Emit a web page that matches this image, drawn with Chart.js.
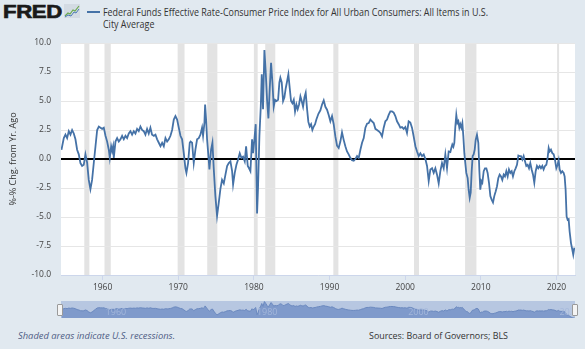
<!DOCTYPE html>
<html>
<head>
<meta charset="utf-8">
<title>Federal Funds Effective Rate - CPI</title>
<script src="https://cdn.jsdelivr.net/npm/chart.js@4.4.1/dist/chart.umd.min.js"></script>
<style>
  html, body { margin: 0; padding: 0; }
  body { width: 585px; height: 349px; background: #e1e9f0; position: relative; overflow: hidden; font-family: 'Open Sans', sans-serif; }
  .txt { position: absolute; white-space: nowrap; transform-origin: 0 0; }
  #logo { left: 3px; top: 2px; font-family: 'Liberation Sans', Arial, sans-serif; font-weight: bold; font-size: 19px; line-height: 19px; color: #1a1a1a; letter-spacing: -0.3px; -webkit-text-stroke: 0.7px #1a1a1a; }
  #icon { position: absolute; left: 64px; top: 4px; }
  #legendKey { position: absolute; left: 87px; top: 11px; width: 13px; height: 2px; background: #4572a7; }
  .legendLine { left: 103px; font-size: 10px; line-height: 12px; color: #333; }
  #legend1 { top: 6px; }
  #legend2 { top: 18px; }
  #mainChart { position: absolute; left: 0; top: 0; }
  #navChart { position: absolute; left: 61px; top: 301px; }
  .handle { position: absolute; top: 304px; width: 4px; height: 10px; background: #f4f4f4; border: 1px solid #9a9a9a; border-radius: 1px; }
  #footLeft { left: 18px; top: 330px; font-size: 9.5px; line-height: 12px; font-style: italic; color: #4f5d85; }
  #footRight { left: 369px; top: 330px; font-size: 9.5px; line-height: 12px; color: #333; }
</style>
</head>
<body>
<div id="logo" class="txt">FRED</div>
<svg id="icon" width="16" height="14" viewBox="0 0 16 14">
  <rect x="0" y="0" width="16" height="14" fill="#d3dbe3"/>
  <polyline points="1,12 4,9 6,10 9,6 11,7 15,2" fill="none" stroke="#6aa84f" stroke-width="1.2"/>
  <polyline points="1,13 4,11 7,12 10,8 12,9 15,5" fill="none" stroke="#4a7ab5" stroke-width="1"/>
</svg>
<div id="legendKey"></div>
<div id="legend1" class="txt legendLine">Federal Funds Effective Rate-Consumer Price Index for All Urban Consumers: All Items in U.S.</div>
<div id="legend2" class="txt legendLine">City Average</div>

<canvas id="mainChart" width="585" height="297"></canvas>
<canvas id="navChart" width="514" height="17"></canvas>
<div class="handle" style="left:57px"></div>
<div class="handle" style="left:572px"></div>

<div id="footLeft" class="txt">Shaded areas indicate U.S. recessions.</div>
<div id="footRight" class="txt">Sources: Board of Governors; BLS</div>

<script>
const obsYear = [
  1954.56, 1954.87, 1955.09, 1955.31, 1955.53, 1955.75, 1955.97, 1956.19, 1956.41, 1956.63,
  1956.85, 1957.07, 1957.29, 1957.51, 1957.73, 1957.95, 1958.17, 1958.39, 1958.61, 1958.84,
  1959.06, 1959.28, 1959.50, 1959.72, 1959.94, 1960.16, 1960.38, 1960.60, 1960.82, 1960.95,
  1961.13, 1961.26, 1961.39, 1961.48, 1961.70, 1961.92, 1962.14, 1962.36, 1962.58, 1962.80,
  1963.02, 1963.24, 1963.46, 1963.68, 1963.90, 1964.12, 1964.34, 1964.56, 1964.78, 1965.00,
  1965.22, 1965.44, 1965.66, 1965.88, 1966.10, 1966.32, 1966.54, 1966.78, 1966.99, 1967.21,
  1967.43, 1967.65, 1967.87, 1968.09, 1968.31, 1968.53, 1968.75, 1968.97, 1969.19, 1969.41,
  1969.63, 1969.85, 1970.07, 1970.29, 1970.51, 1970.73, 1970.95, 1971.08, 1971.30, 1971.52,
  1971.63, 1971.83, 1972.05, 1972.27, 1972.49, 1972.71, 1972.93, 1973.15, 1973.28, 1973.46,
  1973.55, 1973.68, 1973.81, 1974.03, 1974.12, 1974.34, 1974.52, 1974.69, 1974.91, 1975.13,
  1975.35, 1975.57, 1975.79, 1976.02, 1976.24, 1976.46, 1976.68, 1976.90, 1977.12, 1977.25,
  1977.47, 1977.69, 1977.91, 1978.13, 1978.35, 1978.57, 1978.79, 1978.97, 1979.19, 1979.36,
  1979.54, 1979.76, 1979.89, 1980.07, 1980.24, 1980.42, 1980.55, 1980.73, 1980.91, 1981.04,
  1981.21, 1981.39, 1981.57, 1981.74, 1981.92, 1982.09, 1982.27, 1982.45, 1982.62, 1982.80,
  1982.98, 1983.20, 1983.37, 1983.50, 1983.68, 1983.86, 1984.03, 1984.21, 1984.39, 1984.56,
  1984.74, 1984.91, 1985.09, 1985.27, 1985.44, 1985.62, 1985.79, 1985.97, 1986.15, 1986.32,
  1986.50, 1986.68, 1986.85, 1987.03, 1987.20, 1987.38, 1987.56, 1987.73, 1987.91, 1988.09,
  1988.26, 1988.53, 1988.79, 1989.01, 1989.23, 1989.45, 1989.67, 1989.89, 1990.11, 1990.33,
  1990.55, 1990.77, 1990.99, 1991.21, 1991.43, 1991.65, 1991.87, 1992.09, 1992.31, 1992.53,
  1992.75, 1992.97, 1993.20, 1993.42, 1993.64, 1993.86, 1994.08, 1994.30, 1994.52, 1994.74,
  1994.96, 1995.18, 1995.40, 1995.62, 1995.84, 1996.06, 1996.28, 1996.50, 1996.72, 1996.94,
  1997.16, 1997.38, 1997.60, 1997.82, 1998.04, 1998.26, 1998.48, 1998.70, 1998.92, 1999.14,
  1999.36, 1999.58, 1999.80, 2000.02, 2000.24, 2000.46, 2000.68, 2000.90, 2001.12, 2001.35,
  2001.57, 2001.79, 2002.01, 2002.23, 2002.45, 2002.67, 2002.89, 2003.11, 2003.33, 2003.55,
  2003.77, 2003.99, 2004.21, 2004.43, 2004.65, 2004.87, 2005.09, 2005.31, 2005.53, 2005.75,
  2005.97, 2006.10, 2006.23, 2006.37, 2006.50, 2006.63, 2006.76, 2006.90, 2007.03, 2007.16,
  2007.29, 2007.42, 2007.56, 2007.69, 2007.82, 2007.95, 2008.08, 2008.26, 2008.39, 2008.53,
  2008.66, 2008.79, 2008.92, 2009.05, 2009.19, 2009.32, 2009.49, 2009.67, 2009.80, 2009.93,
  2010.07, 2010.20, 2010.38, 2010.55, 2010.73, 2010.90, 2011.08, 2011.26, 2011.43, 2011.61,
  2011.78, 2011.96, 2012.14, 2012.31, 2012.49, 2012.67, 2012.84, 2013.02, 2013.19, 2013.37,
  2013.55, 2013.72, 2013.90, 2014.08, 2014.25, 2014.43, 2014.60, 2014.78, 2014.96, 2015.13,
  2015.31, 2015.49, 2015.66, 2015.84, 2016.01, 2016.19, 2016.37, 2016.54, 2016.72, 2016.90,
  2017.07, 2017.25, 2017.42, 2017.60, 2017.78, 2017.95, 2018.13, 2018.30, 2018.48, 2018.66,
  2018.83, 2018.97, 2019.10, 2019.27, 2019.45, 2019.63, 2019.80, 2019.98, 2020.15, 2020.29,
  2020.42, 2020.60, 2020.77, 2020.95, 2021.08, 2021.21, 2021.34, 2021.48, 2021.61, 2021.74,
  2021.92, 2022.09, 2022.22, 2022.36
];

const realRate = [
  0.8, 1.8, 2.1, 1.8, 2.4, 2.1, 2.5, 2.2, 1.7, 0.8,
  0.4, -0.35, -0.6, -0.5, 0.4, -0.3, -1.8, -2.6, -1.8, -0.3,
  1.1, 2.5, 2.8, 2.7, 2.6, 2.7, 2.0, 1.5, 0.8, 0.1,
  1.1, 0.7, 1.1, 0.1, 1.5, 1.8, 1.5, 1.7, 2.0, 1.7,
  2.0, 1.8, 2.2, 2.4, 2.1, 2.4, 2.2, 2.6, 2.4, 2.8,
  2.5, 2.4, 2.1, 2.6, 2.2, 2.7, 2.1, 2.0, 2.1, 1.7,
  1.4, 1.1, 1.4, 1.1, 1.8, 1.5, 1.7, 2.0, 2.5, 3.4,
  3.7, 3.4, 2.7, 2.0, 1.7, 0.5, -0.8, -1.2, -0.35, 1.4,
  1.5, 1.4, -0.35, 0.8, 1.7, 1.8, 2.1, 2.7, 2.0, 3.1,
  4.7, 3.4, 1.7, -0.05, -0.9, 0.8, 1.4, -0.8, -3.2, -4.9,
  -3.8, -2.6, -1.8, -2.1, -1.35, -0.6, -0.35, -0.2, -1.05, -2.2,
  -1.2, -0.5, -0.05, 0.5, 0.1, 0.2, -0.2, 1.1, -0.6, -0.8,
  -1.05, 1.7, 0.5, 1.7, 3.0, -4.7, -2.4, 2.0, 4.5, 7.3,
  4.3, 9.4, 7.4, 5.1, 3.5, 6.0, 8.3, 6.6, 4.5, 5.1,
  5.0, 5.1, 6.6, 7.0, 6.6, 5.0, 5.3, 6.1, 6.7, 7.3,
  6.1, 5.0, 4.8, 5.1, 4.1, 4.7, 4.3, 4.7, 5.4, 5.0,
  4.5, 5.3, 5.7, 4.3, 3.2, 2.8, 3.0, 2.5, 2.8, 3.0,
  3.4, 3.9, 4.2, 4.7, 5.05, 4.5, 4.25, 3.8, 3.25, 3.7,
  3.0, 1.95, 1.15, 0.95, 1.5, 2.3, 1.65, 1.1, 0.65, 0.4,
  0.1, -0.1, -0.15, 0.0, 0.25, 0.1, 0.8, 1.4, 1.8, 2.7,
  3.05, 3.1, 3.4, 3.25, 3.1, 2.6, 2.5, 2.4, 2.25, 1.95,
  2.7, 3.25, 3.4, 3.8, 4.1, 4.1, 4.0, 3.7, 3.25, 3.0,
  2.7, 2.75, 2.6, 2.75, 2.25, 3.25, 3.15, 2.7, 1.95, 1.1,
  0.65, 0.25, 0.5, 0.25, 0.4, 0.0, -0.6, -1.9, -0.9, -0.8,
  -1.2, -0.8, -1.35, -2.1, -1.05, -0.35, -0.8, 0.4, -0.8, 0.65,
  0.6, 0.95, 1.25, 1.05, 1.4, 2.8, 3.8, 3.1, 3.25, 2.7,
  3.0, 2.7, 3.1, 1.95, 0.5, -0.35, -1.2, -1.65, -2.65, -3.35,
  -2.9, -1.05, 0.25, 0.4, 0.8, 1.65, 2.1, 1.4, -0.9, -2.65,
  -1.9, -2.05, -1.05, -0.8, -0.8, -1.2, -2.05, -3.2, -3.5, -3.75,
  -3.2, -2.8, -2.35, -1.65, -1.35, -1.5, -1.8, -1.35, -1.5, -1.05,
  -1.5, -0.9, -1.2, -1.05, -1.5, -1.05, -0.8, -0.5, 0.3, 0.25,
  0.25, -0.05, 0.25, -0.2, -0.6, -0.5, -0.8, -0.35, -0.9, -1.35,
  -2.05, -1.05, -0.6, -0.8, -0.6, -0.8, -0.6, -0.9, -0.6, -0.5,
  0.1, 0.95, 0.65, 0.8, 0.5, 0.4, -0.05, -0.8, -0.5, -0.1,
  -0.9, -1.2, -1.05, -1.2, -1.5, -2.65, -4.95, -5.25, -5.2, -6.25,
  -7.25, -7.8, -8.25, -7.65
];

// NBER recessions (decimal years)
const recessionStart = [1957.58, 1960.25, 1969.92, 1973.83, 1980.00, 1981.50, 1990.50, 2001.17, 2007.92, 2020.08];
const recessionEnd   = [1958.25, 1961.08, 1970.83, 1975.17, 1980.50, 1982.83, 1991.17, 2001.83, 2009.42, 2020.33];

const xTickYears = [1960, 1970, 1980, 1990, 2000, 2010, 2020];
const navTickYears = [1960, 1980, 2000, 2020];
const yTickValues = [-10, -7.5, -5, -2.5, 0, 2.5, 5, 7.5, 10];
const xMin = 1954.5;
const xMax = 2022.45;

const points = obsYear.map((t, i) => ({ x: t, y: realRate[i] }));

// scale html text to the widths seen in the reference
function fitWidth(id, target) {
    const el = document.getElementById(id);
    const w = el.getBoundingClientRect().width;
    const k = target / w;
    el.style.transform = 'scaleX(' + k + ')';
    return k;
}
fitWidth('logo', 59);
const legendScale = fitWidth('legend1', 385);
document.getElementById('legend2').style.transform = 'scaleX(' + legendScale + ')';
fitWidth('footLeft', 157);
fitWidth('footRight', 139);

const tickFont = { family: 'Open Sans', size: 8.5 };

// white plot background + shaded recessions, drawn under the grid
const recessionBands = {
    id: 'recessionBands',
    beforeDraw(chart) {
        const { ctx, chartArea: a, scales: { x } } = chart;
        ctx.save();
        ctx.fillStyle = '#ffffff';
        ctx.fillRect(a.left, a.top, a.width, a.height);
        ctx.fillStyle = '#e3e3e3';
        for (let i = 0; i < recessionStart.length; i++) {
            const x0 = x.getPixelForValue(recessionStart[i]);
            const x1 = x.getPixelForValue(recessionEnd[i]);
            ctx.fillRect(x0, a.top, Math.max(x1 - x0, 2), a.height);
        }
        ctx.restore();
    }
};

new Chart(document.getElementById('mainChart'), {
    type: 'line',
    data: {
        datasets: [{
            data: points,
            borderColor: '#4572a7',
            borderWidth: 1.8,
            pointRadius: 0,
            tension: 0,
            fill: false
        }]
    },
    options: {
        responsive: false,
        animation: false,
        devicePixelRatio: 1,
        layout: { padding: { top: 43, right: 10, left: 0, bottom: 0 } },
        plugins: {
            legend: { display: false },
            tooltip: { enabled: false }
        },
        scales: {
            x: {
                type: 'linear',
                min: xMin,
                max: xMax,
                afterBuildTicks: function(scale) {
                    scale.ticks = xTickYears.map(v => ({ value: v }));
                },
                afterFit: function(scale) { scale.height = 22; },
                ticks: {
                    callback: v => String(v),
                    font: tickFont,
                    color: '#444',
                    padding: 2,
                    maxRotation: 0,
                    autoSkip: false
                },
                grid: { drawOnChartArea: false, drawTicks: true, tickLength: 5, color: '#ccd6eb' },
                border: { display: true, color: '#ccd6eb' }
            },
            y: {
                min: -10,
                max: 10,
                afterBuildTicks: function(scale) {
                    scale.ticks = yTickValues.map(v => ({ value: v }));
                },
                afterFit: function(scale) { scale.width = 61; },
                ticks: {
                    callback: v => v.toFixed(1),
                    font: tickFont,
                    color: '#444',
                    padding: 10
                },
                grid: {
                    color: ctx => (ctx.tick && ctx.tick.value === 0) ? '#000000' : '#e6e6e6',
                    lineWidth: ctx => (ctx.tick && ctx.tick.value === 0) ? 2 : 1,
                    drawTicks: false
                },
                border: { display: false },
                title: {
                    display: true,
                    text: '%-% Chg. from Yr. Ago',
                    font: { family: 'Open Sans', size: 9 },
                    color: '#333',
                    padding: { top: 8, bottom: 0 }
                }
            }
        }
    },
    plugins: [recessionBands]
});

// navigator strip under the chart
const navBackground = {
    id: 'navBackground',
    beforeDraw(chart) {
        const { ctx, width, height } = chart;
        ctx.save();
        ctx.fillStyle = '#b7c7e1';
        ctx.fillRect(0, 0, width, height);
        ctx.restore();
    }
};

const navLabels = {
    id: 'navLabels',
    afterDatasetsDraw(chart) {
        const { ctx, chartArea: a, scales: { x } } = chart;
        ctx.save();
        ctx.beginPath();
        ctx.rect(a.left, a.top, a.width - 4, a.height);
        ctx.clip();
        ctx.font = '9px "Open Sans"';
        ctx.fillStyle = 'rgba(165,184,219,0.95)';
        ctx.textBaseline = 'alphabetic';
        navTickYears.forEach(v => {
            ctx.fillText(String(v), x.getPixelForValue(v) + 3, 14);
        });
        ctx.restore();
    }
};

new Chart(document.getElementById('navChart'), {
    type: 'line',
    data: {
        datasets: [{
            data: points,
            borderColor: '#6b89bf',
            borderWidth: 1,
            backgroundColor: '#7f9acb',
            fill: 'start',
            pointRadius: 0,
            tension: 0
        }]
    },
    options: {
        responsive: false,
        animation: false,
        devicePixelRatio: 1,
        layout: { padding: 0 },
        plugins: {
            legend: { display: false },
            tooltip: { enabled: false }
        },
        scales: {
            x: { type: 'linear', min: xMin, max: xMax, display: false },
            y: { min: Math.min(...realRate), max: Math.max(...realRate) + 0.6, display: false }
        }
    },
    plugins: [navBackground, navLabels]
});
</script>
</body>
</html>
